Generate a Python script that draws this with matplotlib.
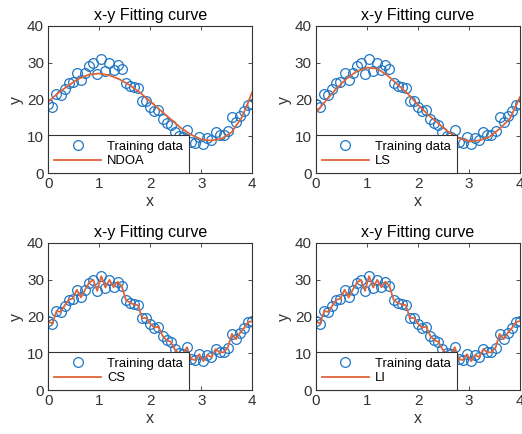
import matplotlib
matplotlib.use('Agg')
import matplotlib.pyplot as plt
import numpy as np

# training data
x_train = [0.00, 0.08, 0.16, 0.24, 0.32, 0.40, 0.48, 0.56, 0.64, 0.72,
           0.80, 0.88, 0.96, 1.04, 1.12, 1.20, 1.28, 1.36, 1.44, 1.52,
           1.60, 1.68, 1.76, 1.84, 1.92, 2.00, 2.08, 2.16, 2.24, 2.32,
           2.40, 2.48, 2.56, 2.64, 2.72, 2.80, 2.88, 2.96, 3.04, 3.12,
           3.20, 3.28, 3.36, 3.44, 3.52, 3.60, 3.68, 3.76, 3.84, 3.92, 4.00]
y_train = [18.7, 18.1, 21.5, 21.3, 23.0, 24.6, 24.9, 27.3, 25.2, 27.3,
           29.2, 30.0, 27.0, 31.0, 27.9, 30.0, 28.0, 29.5, 28.3, 24.6,
           23.8, 23.3, 23.1, 19.6, 19.7, 18.1, 17.0, 17.3, 14.8, 13.6,
           13.2, 11.1, 10.0, 9.8, 11.7, 8.5, 8.2, 9.8, 7.9, 9.6,
           9.0, 11.2, 10.3, 10.3, 11.6, 15.3, 13.9, 15.6, 16.9, 18.5, 18.8]

# fitted curves (sampled from the chart)
x_fit = [0.0, 0.2, 0.4, 0.6, 0.8, 1.0, 1.2, 1.4, 1.6, 1.8, 2.0,
         2.2, 2.4, 2.6, 2.8, 3.0, 3.2, 3.4, 3.6, 3.8, 4.0]
y_ndoa = [19.4, 21.9, 23.9, 25.7, 26.8, 27.1, 26.6, 25.5, 23.9, 21.9, 19.5,
          17.1, 14.7, 12.3, 10.5, 9.2, 8.9, 9.4, 11.2, 15.3, 22.1]
y_ls = [16.5, 19.8, 23.0, 25.7, 27.7, 28.7, 28.4, 26.6, 24.1, 21.6, 18.6,
        15.9, 13.5, 11.2, 9.6, 8.7, 8.9, 9.9, 12.1, 14.8, 20.7]

methods = ['NDOA', 'LS', 'CS', 'LI']

plt.rcParams['font.family'] = ['Liberation Sans', 'DejaVu Sans']

blue = '#1F77C4'
orange = '#E0643A'
dark = '#333333'

fig = plt.figure(figsize=(5.22, 4.34), dpi=100)
fig.patch.set_facecolor('white')

# axes positions in figure fractions
lefts = [0.0925, 0.6054]
bottoms = [0.6007, 0.1007]
w, h = 0.3908, 0.3394

for k, name in enumerate(methods):
    ax = fig.add_axes([lefts[k % 2], bottoms[k // 2], w, h])

    ax.plot(x_train, y_train, 'o', color=blue, markerfacecolor='none',
            markersize=7, markeredgewidth=0.9, label='Training data')
    if name == 'NDOA':
        ax.plot(x_fit, y_ndoa, '-', color=orange, linewidth=1.3, label=name)
    elif name == 'LS':
        ax.plot(x_fit, y_ls, '-', color=orange, linewidth=1.3, label=name)
    else:
        # CS and LI pass through the training points
        ax.plot(x_train, y_train, '-', color=orange, linewidth=1.3, label=name)

    ax.set_xlim(0, 4)
    ax.set_ylim(0, 40)
    ax.set_xticks([0, 1, 2, 3, 4])
    ax.set_yticks([0, 10, 20, 30, 40])
    ax.tick_params(direction='in', length=3, width=0.6, top=True, right=True,
                   labelsize=11, colors=dark, pad=3)
    for s in ax.spines.values():
        s.set_color(dark)
        s.set_linewidth(0.8)

    ax.set_title('x-y Fitting curve', fontsize=11.5, color='black', pad=4)
    ax.set_xlabel('x', fontsize=11.5, color=dark, labelpad=2)
    ax.set_ylabel('y', fontsize=11.5, color=dark, labelpad=2)

    leg = ax.legend(loc='lower left', borderaxespad=0, fontsize=9.4,
                    numpoints=1, handlelength=3.6, handletextpad=0.45,
                    borderpad=0.45, labelspacing=0.2, fancybox=False,
                    framealpha=1, edgecolor=dark)
    leg.get_frame().set_linewidth(0.8)

fig.savefig('out.png', dpi=100, facecolor='white')
